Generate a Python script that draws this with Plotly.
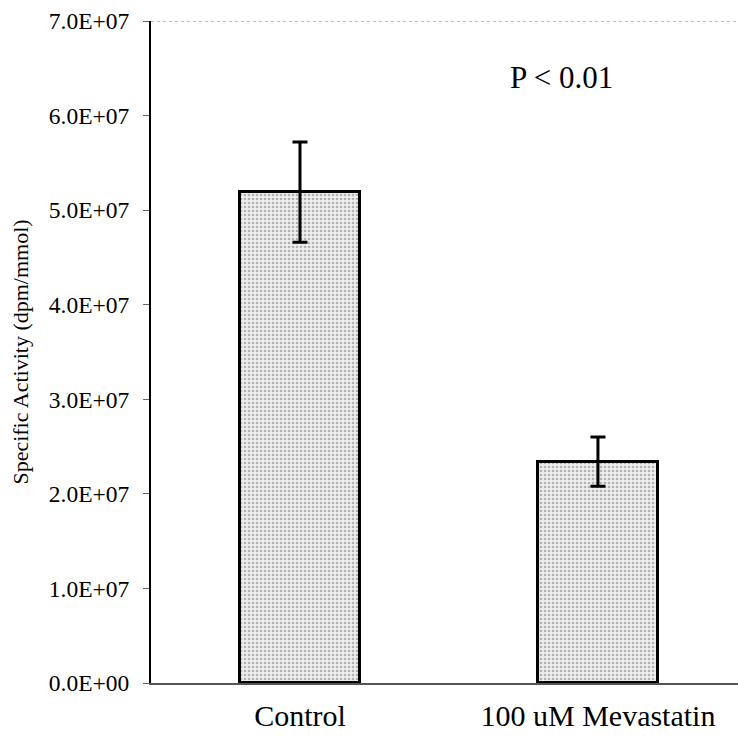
import plotly.graph_objects as go

categories = ["Control", "100 uM Mevastatin"]
values = [5.19e7, 2.34e7]
errors = [0.53e7, 0.26e7]
y_tickvals = [0, 1e7, 2e7, 3e7, 4e7, 5e7, 6e7, 7e7]
y_ticktext = ["0.0E+00", "1.0E+07", "2.0E+07", "3.0E+07", "4.0E+07", "5.0E+07", "6.0E+07", "7.0E+07"]

FONT = "Liberation Serif"

fig = go.Figure()
fig.add_trace(go.Bar(
    x=categories, y=values, width=0.40,
    marker=dict(
        color="#dcdcdc",
        line=dict(color="black", width=3),
        pattern=dict(shape=".", fgcolor="#747474", bgcolor="#eeeeee", size=4, solidity=0.35),
    ),
    error_y=dict(type="data", array=errors, visible=True, color="black", thickness=3, width=7.5),
))

fig.add_shape(type="line", xref="paper", yref="y", x0=0, x1=1, y0=7e7, y1=7e7,
              line=dict(color="#888888", width=1, dash="dot"))

fig.add_annotation(text="P < 0.01", xref="paper", yref="y", x=0.70, y=6.4e7,
                   xanchor="center", yanchor="middle",
                   showarrow=False, font=dict(family=FONT, size=31, color="black"))

fig.update_layout(
    width=738, height=743,
    margin=dict(l=151, r=0, t=21, b=60),
    plot_bgcolor="white", paper_bgcolor="white",
    showlegend=False,
    font=dict(family=FONT, color="black"),
    bargap=0,
)
fig.update_xaxes(
    type="category", range=[-0.5, 1.47],
    showline=True, linecolor="#555555", linewidth=2,
    ticks="outside", ticklen=5, tickcolor="rgba(0,0,0,0)",
    tickfont=dict(family=FONT, size=30, color="black"),
    showgrid=False, zeroline=False,
)
fig.update_yaxes(
    range=[0, 7e7], tickvals=y_tickvals, ticktext=y_ticktext,
    showline=True, linecolor="black", linewidth=2,
    ticks="outside", ticklen=6, tickcolor="#666666", tickwidth=1,
    ticklabelstandoff=9,
    tickfont=dict(family=FONT, size=23.5, color="black"),
    title=dict(text="Specific Activity (dpm/mmol)", font=dict(family=FONT, size=22, color="black"), standoff=14),
    showgrid=False, zeroline=False,
)

fig.write_html("out.html")
